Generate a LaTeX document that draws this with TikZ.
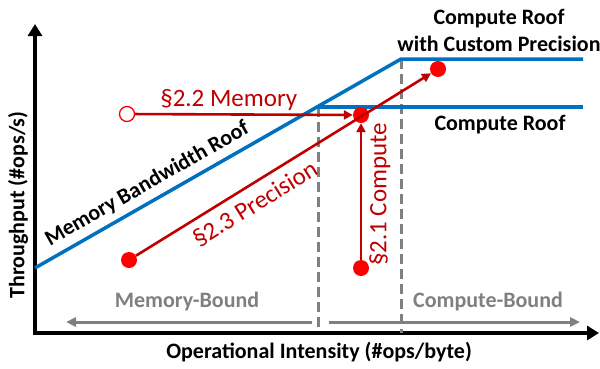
\documentclass[tikz,border=0pt]{standalone}
\usepackage{fontspec}
\setmainfont{Carlito}
\usepackage{tikz}
\usetikzlibrary{positioning}
\usetikzlibrary{arrows.meta}
\usetikzlibrary{calc}
\definecolor{roofblue}{HTML}{0070C0}
\definecolor{darkred}{HTML}{C00000}
\definecolor{dotred}{HTML}{FF0000}
\definecolor{boundgray}{HTML}{808080}
\tikzset{red dot/.style={circle,fill=dotred,minimum size=16pt,inner sep=0pt},
	open dot/.style={circle,draw=dotred,fill=white,line width=1.3pt,minimum size=15pt,inner sep=0pt},
	roof/.style={roofblue,line width=3.5pt},
	opt arrow/.style={darkred,line width=2.6pt,-{Triangle[length=9pt,width=9pt]}},
	axis line/.style={black,line width=4.5pt,-{Triangle[length=12pt,width=14pt]}},
	bound arrow/.style={boundgray,line width=3pt,-{Triangle[length=10pt,width=9pt]}},
	guide/.style={boundgray,line width=3pt,dash pattern=on 10pt off 5pt},
	bold label/.style={text=black,font=\fontsize{22}{27}\selectfont\bfseries,inner sep=1pt},
	red label/.style={text=darkred,font=\fontsize{25}{29}\selectfont,inner sep=2pt},
	gray label/.style={text=boundgray,font=\fontsize{22}{27}\selectfont\bfseries,inner sep=1pt},}

\begin{document}
\begin{tikzpicture}[x=1pt, y=-1pt]
	\useasboundingbox (0,0) rectangle (600,368);
	% axes
	\coordinate (origin) at (35,333);
	\coordinate (ytip) at (35,24);
	\coordinate (xtip) at (599,333);
	\draw[axis line] ($(origin)+(0,2)$) -- (ytip);
	\draw[axis line] ($(origin)+(-2,0)$) -- (xtip);
	\node[bold label, rotate=90] (ylabel) at (18,205) {Throughput (\#ops/s)};
	\node[bold label] (xlabel) at (319,352) {Operational Intensity (\#ops/byte)};

	% roofs
	\coordinate (bw start) at (35,268);
	\coordinate (knee low) at (318,107);
	\coordinate (knee high) at (401,59);
	\coordinate (roof low end) at (583,107);
	\coordinate (roof high end) at (583,59);
	\draw[guide] (knee low) -- (knee low |- 0,331);
	\draw[guide] (knee high) -- (knee high |- 0,333);
	\draw[roof] (bw start) -- node[bold label, pos=0.33, sloped, above=5pt] {Memory Bandwidth Roof} (knee high) -- (roof high end);
	\draw[roof] (knee low) -- (roof low end);
	\node[bold label, align=center] (custom roof) at (499,30) {Compute Roof\\with Custom Precision};
	\node[bold label] (compute roof) at (500,125) {Compute Roof};

	% bounds
	\coordinate (mb right) at (312,322);
	\coordinate (mb left) at (66,322);
	\coordinate (cb left) at (329,322);
	\coordinate (cb right) at (580,322);
	\draw[bound arrow] (mb right) -- (mb left);
	\draw[bound arrow] (cb left) -- (cb right);
	\node[gray label] (mem bound) at (187,302) {Memory-Bound};
	\node[gray label] (comp bound) at (488,302) {Compute-Bound};

	% optimizations
	\node[open dot] (mem start) at (127,114) {};
	\node[red dot] (mid) at (361,115) {};
	\node[red dot] (comp start) at (361,268) {};
	\node[red dot] (prec start) at (129,260) {};
	\node[red dot] (prec end) at (438,69) {};
	\draw[opt arrow] (mem start) -- node[red label, pos=0.43, above=1pt] {§2.2 Memory} (mid);
	\draw[opt arrow] (comp start) -- node[red label, pos=0.48, sloped, below=5pt] {§2.1 Compute} (mid);
	\draw[opt arrow] (prec start) -- node[red label, pos=0.37, sloped, below=6pt] {§2.3 Precision} (prec end);
\end{tikzpicture}
\end{document}
